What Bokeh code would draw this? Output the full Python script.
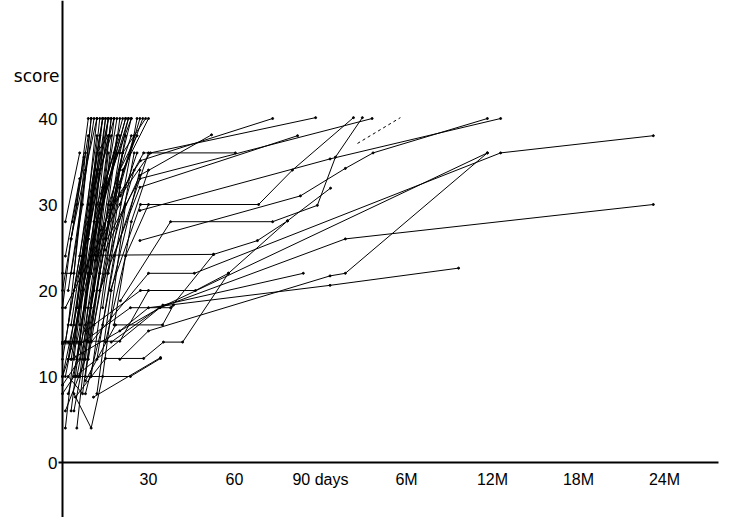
import numpy as np
from bokeh.plotting import figure
from bokeh.models import Range1d, FixedTicker, Label
from bokeh.embed import file_html
from bokeh.resources import INLINE

# ---- axis definitions (non-linear time axis: days, then months) ----
tick_days = [0, 30, 60, 90, 180, 365, 545, 730]
tick_pos = [0, 1, 2, 3, 4, 5, 6, 7]
x_tick_labels = ["0", "30", "60", "90 days", "6M", "12M", "18M", "24M"]
y_ticks = [0, 10, 20, 30, 40]

# ---- early recoveries (within ~30 days) ----
early_days = [
    [1, 13], [5, 17], [4, 10, 14, 22], [1, 8, 16], [0, 5, 12], [0, 6, 12],
    [1, 9, 14], [0, 4, 12], [2, 10], [0, 3, 9], [0, 4, 8], [1, 6],
    [2, 7, 20], [3, 12, 20], [0, 6, 16], [5, 11, 18], [2, 8, 15, 24],
    [4, 9, 15], [6, 13, 18], [3, 14], [7, 19], [8, 14, 25], [5, 10, 16],
    [2, 11], [7, 12, 22], [9, 17, 28], [10, 20, 26], [6, 16], [3, 8, 12],
    [1, 6], [3.5, 7.5], [12, 18, 30], [11, 20, 27], [14, 21, 30],
    [4, 13, 21], [8, 15], [10, 19], [12, 24], [13, 25], [15, 22, 30],
    [0, 2, 9, 17], [2, 5, 12, 23], [6, 9, 16, 25], [9, 16], [16, 26],
    [18, 24, 30], [11, 18], [14, 22], [4, 7, 13], [1, 10, 20, 26],
    [0, 4, 11, 19], [3, 6, 14], [1, 7, 13, 21], [5, 10, 17], [2, 9, 13],
    [4, 11, 17], [8, 13, 22], [3, 7, 10], [6, 12, 16], [10, 16, 24],
    [0, 5, 9], [7, 12, 14], [12, 17, 27], [9, 21, 29], [15, 20, 23],
]
early_scores = [
    [4, 40], [4, 40], [8, 4, 10, 30], [6, 12, 36], [10, 18, 40], [12, 24, 38],
    [14, 30, 40], [14, 14, 34], [16, 40], [18, 26, 38], [22, 22, 36], [24, 33],
    [10, 8, 40], [12, 30, 38], [9, 12, 40], [10, 20, 40], [8, 16, 32, 40],
    [12, 26, 40], [14, 34, 40], [16, 40], [12, 38], [8, 16, 36], [18, 30, 40],
    [20, 40], [20, 28, 40], [14, 30, 40], [10, 34, 38], [22, 38], [26, 34, 40],
    [28, 36], [28, 35.5], [12, 24, 36], [16, 32, 40], [18, 34, 40],
    [6, 22, 36], [18, 40], [22, 40], [24, 40], [20, 34], [14, 24, 30],
    [10, 12, 22, 30], [14, 12, 28, 40], [10, 18, 28, 38], [26, 40], [22, 40],
    [16, 28, 34], [28, 36], [30, 40], [20, 24, 36], [18, 24, 30, 36],
    [8, 10, 26, 36], [6, 14, 32], [10, 20, 30, 40], [14, 22, 40], [12, 28, 38],
    [16, 32, 38], [10, 22, 38], [22, 30, 40], [16, 36, 38], [18, 30, 38],
    [20, 30, 40], [24, 34, 40], [8, 20, 34], [12, 36, 40], [26, 36, 40],
]

# ---- intermediate recoveries (1-5 months) ----
mid_days = [
    [8, 27.2, 46.4, 57.9, 78.5],
    [11.5, 52.7, 68, 78.5, 100.5],
    [0, 6.3, 23.7, 37.7, 52.7],
    [8, 18.5, 34.9, 38.7],
    [1, 20, 30],
    [4.5, 15, 28.3, 35.2, 41.9, 57.9],
    [5.6, 23.7, 34.2],
    [10.8, 34.2],
    [17, 35, 84],
    [11.5, 27, 144],
    [13, 27, 82],
    [15, 27, 52],
    [13.3, 28.3, 60.3],
    [16.7, 27.2, 68.4, 80.2, 124.5],
    [20.2, 37.7, 73.3, 88.9, 105.6, 133.8],
    [18.5, 27.2, 73.3],
    [20.2, 30.7, 88.3],
]
mid_scores = [
    [15.3, 20, 20, 22, 28.1],
    [24.1, 24.2, 25.8, 28.1, 31.9],
    [13.8, 13.8, 18, 18, 24.2],
    [9.5, 16, 16, 18.3],
    [14.1, 14.1, 20],
    [7.6, 12.1, 12.1, 14, 14, 22],
    [10, 10, 12.1],
    [7.6, 12.2],
    [14, 18.3, 22],
    [23.5, 33, 40],
    [20, 32, 38],
    [24.7, 33.4, 38.1],
    [27, 36, 36],
    [20, 30, 30, 34, 40.1],
    [18.8, 28, 28, 29.9, 35.5, 40.1],
    [30.5, 35.1, 40],
    [31, 36, 40.1],
]

# ---- late recoveries (up to 24 months) ----
late_days = [
    [3, 34, 354],
    [10, 30, 46, 382, 706],
    [4.5, 34, 116, 706],
    [20, 30, 100, 116, 354],
    [20, 30, 100, 292],
    [27, 83, 116, 145, 354],
    [27, 100, 382],
]
late_scores = [
    [12, 18, 36],
    [14, 22, 22, 36, 38],
    [10, 18, 26, 30],
    [12, 15.3, 21.7, 22, 36],
    [15.3, 18, 20.6, 22.6],
    [25.8, 31, 34.2, 36, 40],
    [29.3, 35.3, 40],
]

# ---- faint (broken) trace ----
faint_days = [128.7, 173.6]
faint_scores = [37.1, 40.1]


def to_pos(days):
    return list(np.interp(days, tick_days, tick_pos))


W, H = 733, 517
px_per_x = 86.0
px_per_y = 8.6
x0 = -62 / px_per_x
y1 = 462 / px_per_y

p = figure(width=W, height=H, output_backend="svg", toolbar_location=None,
           x_range=Range1d(x0, x0 + W / px_per_x),
           y_range=Range1d(y1 - H / px_per_y, y1),
           min_border=0, background_fill_color="white",
           border_fill_color="white", outline_line_color=None)
p.grid.visible = False

all_days = early_days + mid_days + late_days
all_scores = early_scores + mid_scores + late_scores
xs = [to_pos(d) for d in all_days]
p.multi_line(xs=xs, ys=all_scores, line_color="black", line_width=1)

px = [x for seg in xs for x in seg]
py = [y for seg in all_scores for y in seg]
p.scatter(px, py, size=2, color="black")

p.line(to_pos(faint_days), faint_scores, line_color="black", line_width=1,
       line_dash="3 3")

# axes crossing at the origin
xa = p.xaxis[0]
xa.fixed_location = 0
xa.bounds = (-0.047, 7.63)
xa.ticker = FixedTicker(ticks=tick_pos[1:])
xa.major_label_overrides = {t: lab for t, lab in zip(tick_pos, x_tick_labels)}
ya = p.yaxis[0]
ya.fixed_location = 0
ya.ticker = FixedTicker(ticks=y_ticks)

for ax in (xa, ya):
    ax.axis_line_width = 2
    ax.axis_line_color = "black"
    ax.major_tick_in = 0
    ax.major_tick_out = 0
    ax.minor_tick_in = 0
    ax.minor_tick_out = 0
    ax.major_label_text_color = "black"
    ax.major_label_text_font = "Liberation Sans"
    ax.major_label_text_font_size = "17px"
xa.major_label_standoff = 8
xa.major_label_text_font_size = "16px"
ya.major_label_standoff = 5

p.add_layout(Label(x=0, y=45, x_offset=-3, text="score", text_align="right",
                   text_baseline="middle", text_font="DejaVu Sans",
                   text_font_size="17px", text_color="black"))

open("out.html", "w").write(file_html(p, INLINE))
